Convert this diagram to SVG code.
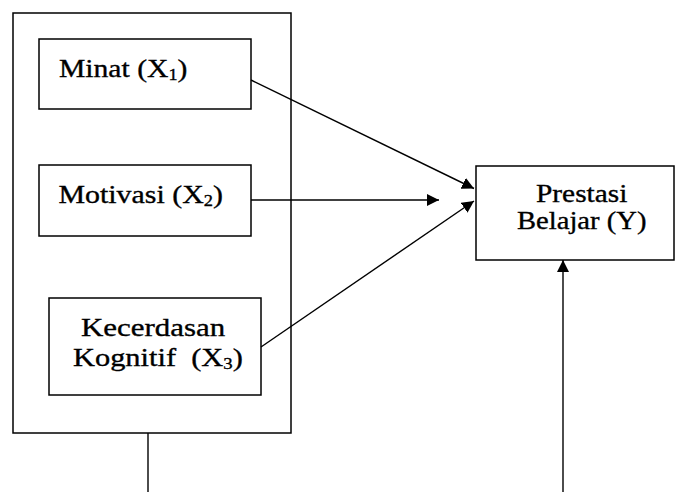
<svg xmlns="http://www.w3.org/2000/svg" width="676" height="492" viewBox="0 0 676 492">
<defs>
<style>
.box{fill:#fff;stroke:#000;stroke-width:1.5}
.ln{fill:none;stroke:#000;stroke-width:1.4}
.t{font-family:"Liberation Serif","Times New Roman",serif;font-size:26px;fill:#000;stroke:#000;stroke-width:0.35}
.s{font-size:16px}
</style>
<marker id="ah" viewBox="0 0 12 12" refX="12" refY="6" markerWidth="12" markerHeight="12" markerUnits="userSpaceOnUse" orient="auto">
<path d="M0,0 L12,6 L0,12 Z" fill="#000"/>
</marker>
</defs>
<rect width="676" height="492" fill="#fff"/>
<g id="group-x">
<rect class="box" x="13" y="13" width="278" height="420"/>
</g>
<g id="minat">
<rect class="box" x="39" y="39" width="212" height="70"/>
<text class="t" transform="translate(59,76.5) scale(1.14,1)">Minat (X<tspan class="s" dy="3">1</tspan><tspan dy="-3">)</tspan></text>
</g>
<g id="motivasi">
<rect class="box" x="39" y="165" width="212" height="71"/>
<text class="t" transform="translate(58.5,202.5) scale(1.15,1)">Motivasi (X<tspan class="s" dy="3">2</tspan><tspan dy="-3">)</tspan></text>
</g>
<g id="kecerdasan">
<rect class="box" x="49" y="298" width="212" height="97"/>
<text class="t" transform="translate(81,335.5) scale(1.19,1)">Kecerdasan</text>
<text class="t" transform="translate(73,366) scale(1.17,1)" xml:space="preserve">Kognitif  (X<tspan class="s" dy="3">3</tspan><tspan dy="-3">)</tspan></text>
</g>
<g id="prestasi">
<rect class="box" x="476" y="166" width="198" height="94"/>
<text class="t" transform="translate(536,202) scale(1.13,1)">Prestasi</text>
<text class="t" transform="translate(517,228.5) scale(1.1,1)">Belajar (Y)</text>
</g>
<g id="connectors">
<line class="ln" x1="251" y1="80" x2="474" y2="188.5" marker-end="url(#ah)"/>
<line class="ln" x1="251" y1="200" x2="439" y2="200" marker-end="url(#ah)"/>
<line class="ln" x1="261" y1="347" x2="474" y2="201" marker-end="url(#ah)"/>
<line class="ln" x1="148" y1="433" x2="148" y2="492"/>
<line class="ln" x1="563" y1="492" x2="563" y2="260" marker-end="url(#ah)"/>
</g>
</svg>
